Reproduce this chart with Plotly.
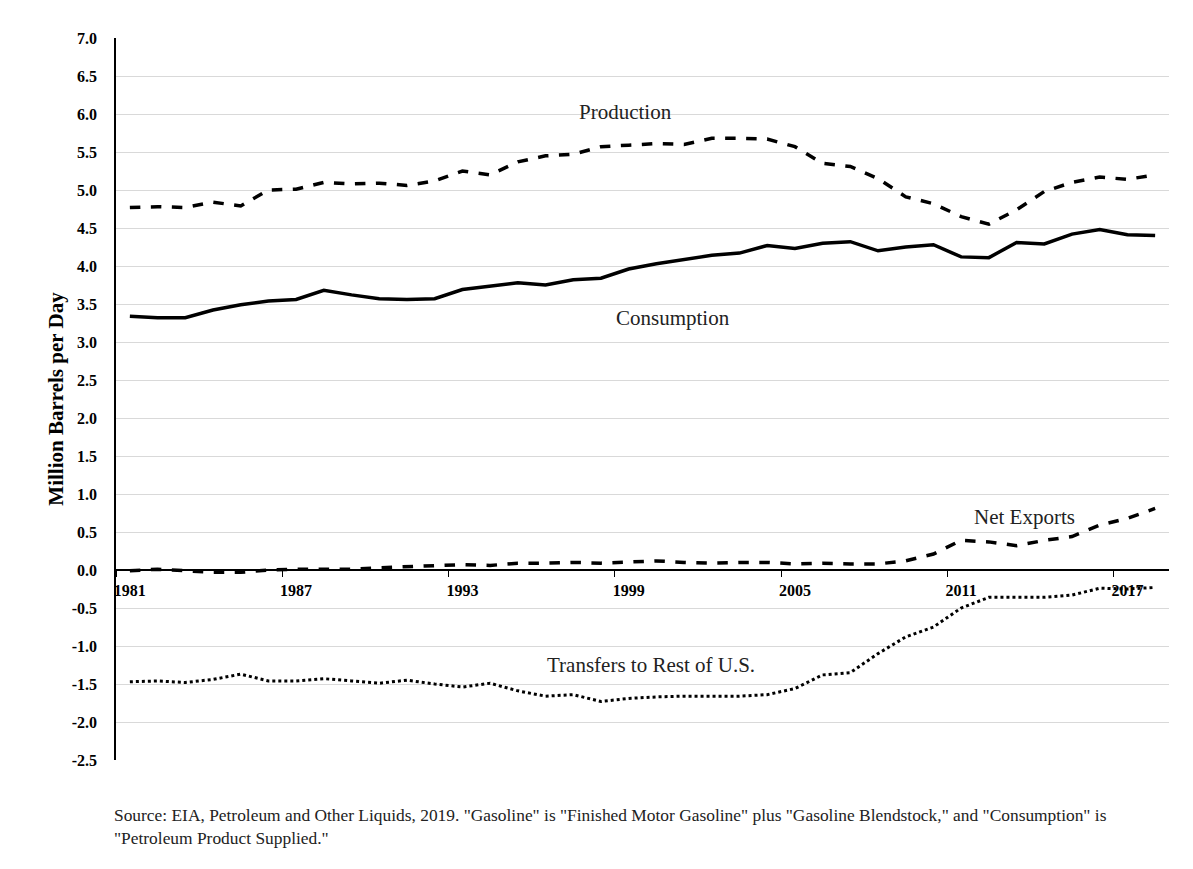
import plotly.graph_objects as go

years = list(range(1981, 2019))

production = [4.77, 4.78, 4.77, 4.84, 4.79, 5.00, 5.01, 5.10, 5.08, 5.09,
              5.06, 5.12, 5.25, 5.20, 5.37, 5.45, 5.47, 5.57, 5.59, 5.61,
              5.60, 5.68, 5.68, 5.67, 5.57, 5.35, 5.31, 5.15, 4.91, 4.82,
              4.65, 4.55, 4.74, 4.98, 5.10, 5.17, 5.14, 5.20]

consumption = [3.34, 3.32, 3.32, 3.42, 3.49, 3.54, 3.56, 3.68, 3.62, 3.57,
               3.56, 3.57, 3.69, 3.74, 3.78, 3.75, 3.82, 3.84, 3.96, 4.03,
               4.09, 4.14, 4.17, 4.27, 4.23, 4.30, 4.32, 4.20, 4.25, 4.28,
               4.12, 4.11, 4.31, 4.29, 4.42, 4.48, 4.41, 4.40]

net_exports = [-0.01, 0.01, -0.01, -0.03, -0.03, 0.00, 0.01, 0.01, 0.01, 0.03,
               0.04, 0.05, 0.07, 0.06, 0.09, 0.09, 0.10, 0.09, 0.10, 0.12,
               0.10, 0.09, 0.10, 0.10, 0.08, 0.09, 0.08, 0.08, 0.12, 0.21,
               0.39, 0.37, 0.32, 0.39, 0.44, 0.59, 0.68, 0.81]

transfers = [-1.47, -1.46, -1.48, -1.44, -1.37, -1.46, -1.46, -1.43, -1.46, -1.49,
             -1.45, -1.50, -1.54, -1.49, -1.59, -1.66, -1.64, -1.73, -1.69, -1.67,
             -1.66, -1.66, -1.66, -1.64, -1.56, -1.38, -1.35, -1.10, -0.88, -0.75,
             -0.50, -0.36, -0.36, -0.36, -0.33, -0.24, -0.25, -0.23]

tick_years = [1981, 1987, 1993, 1999, 2005, 2011, 2017]
y_ticks = [x / 2 for x in range(-5, 15)]

series = [
    ("Production", production, "dash"),
    ("Consumption", consumption, "solid"),
    ("Net Exports", net_exports, "dash"),
    ("Transfers to Rest of U.S.", transfers, "dot"),
]

serif = "Liberation Serif, Times New Roman, serif"

fig = go.Figure()
for name, vals, dash in series:
    fig.add_trace(go.Scatter(
        x=years, y=vals, name=name, mode="lines",
        line=dict(color="black", width=3.5 if dash != "dot" else 3, dash=dash),
    ))

# label positions for the series names
labels = [
    ("Production", 1998.9, 6.03),
    ("Consumption", 2000.6, 3.32),
    ("Net Exports", 2013.3, 0.70),
    ("Transfers to Rest of U.S.", 1999.8, -1.25),
]
annotations = [
    dict(text=t, x=x, y=y, xref="x", yref="y", showarrow=False,
         font=dict(family=serif, size=21, color="#222"))
    for t, x, y in labels
]
annotations.append(dict(
    text='Source: EIA, Petroleum and Other Liquids, 2019. "Gasoline" is "Finished Motor Gasoline" plus '
         '"Gasoline Blendstock," and "Consumption" is<br>"Petroleum Product Supplied."',
    xref="paper", yref="paper", x=-0.004, y=-0.06, xanchor="left", yanchor="top",
    align="left", showarrow=False, font=dict(family=serif, size=17.4, color="#222"),
))

y_min, y_max = -2.5, 7.0

# page has an 8px body margin, so the figure is a bit smaller than the window
fig.update_layout(
    width=1185, height=861,
    margin=dict(l=108, r=23.5, t=30, b=109),
    paper_bgcolor="white", plot_bgcolor="white",
    showlegend=False,
    font=dict(family=serif, color="black"),
    annotations=annotations,
    shapes=[dict(type="rect", xref="paper", yref="paper",
                 x0=-0.107, x1=1.0185, y0=-0.2, y1=1.046,
                 line=dict(color="#d9d9d9", width=1))],
    xaxis=dict(
        range=[1980.5, 2018.5], anchor="free",
        position=(0 - y_min) / (y_max - y_min),
        tickmode="array", tickvals=tick_years, ticktext=[str(t) for t in tick_years],
        ticks="", showgrid=False, zeroline=False,
        showline=True, linecolor="black", linewidth=1.5,
        tickfont=dict(family=serif, size=16, color="black", weight="bold"),
        ticklabelstandoff=6,
        minor=dict(tickmode="linear", tick0=1980.5, dtick=6, ticks="outside",
                   ticklen=6, tickcolor="black", tickwidth=1, showgrid=False),
    ),
    yaxis=dict(
        range=[y_min, y_max], tickmode="array", tickvals=y_ticks,
        ticktext=[f"{v:.1f}" for v in y_ticks],
        showgrid=True, gridcolor="#d9d9d9", gridwidth=1, zeroline=False,
        showline=True, linecolor="black", linewidth=1.5, ticks="",
        ticklabelstandoff=14,
        tickfont=dict(family=serif, size=16, color="black", weight="bold"),
        title=dict(text="Million Barrels per Day", standoff=2,
                   font=dict(family=serif, size=21, color="black", weight="bold")),
    ),
)

fig.write_html("out.html")
